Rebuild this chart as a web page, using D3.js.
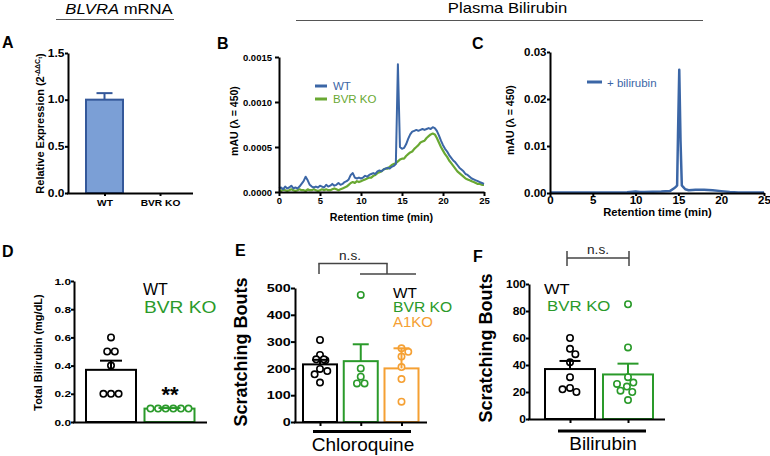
<!DOCTYPE html>
<html><head><meta charset="utf-8">
<script src="https://cdn.jsdelivr.net/npm/d3@7"></script>
<style>body{margin:0;background:#fff}</style>
</head><body>
<script>
// ================= DATA =================
// A: BLVRA mRNA
const mrnaGroups = ["WT", "BVR KO"];
const mrnaMean = [1.0, 0.0];
const mrnaSem = [0.07, 0.0];

// B: HPLC plasma traces (retention time, min / mAU)
const timeB = [0,0.25,0.5,0.75,1,1.25,1.5,1.75,2,2.25,2.5,2.75,3,3.25,3.5,3.75,4,4.25,4.5,4.75,5,5.25,5.5,5.75,6,6.25,6.5,6.75,7,7.25,7.5,7.75,8,8.25,8.5,8.75,9,9.25,9.5,9.75,10,10.25,10.5,10.75,11,11.25,11.5,11.75,12,12.25,12.5,12.75,13,13.25,13.5,13.75,14,14.25,14.5,14.75,15,15.25,15.5,15.75,16,16.25,16.5,16.75,17,17.25,17.5,17.75,18,18.25,18.5,18.75,19,19.25,19.5,19.75,20,20.25,20.5,20.75,21,21.25,21.5,21.75,22,22.25,22.5,22.75,23,23.25,23.5,23.75,24,24.25,24.5,24.75,25];
const signalWT = [0.4e-4,0.5e-4,0.3e-4,0.6e-4,0.4e-4,0.5e-4,0.7e-4,0.4e-4,0.5e-4,0.4e-4,0.6e-4,0.9e-4,1.2e-4,1.7e-4,1.3e-4,0.8e-4,0.6e-4,0.5e-4,0.6e-4,0.5e-4,0.7e-4,0.6e-4,0.5e-4,0.8e-4,0.6e-4,0.7e-4,0.9e-4,0.7e-4,0.8e-4,1.0e-4,0.8e-4,0.9e-4,1.1e-4,1.2e-4,1.4e-4,1.9e-4,2.1e-4,1.6e-4,1.5e-4,1.6e-4,1.5e-4,1.6e-4,1.8e-4,1.7e-4,1.9e-4,2.0e-4,2.1e-4,2.0e-4,2.3e-4,2.4e-4,2.3e-4,2.5e-4,2.6e-4,2.7e-4,2.6e-4,2.8e-4,2.9e-4,3.1e-4,14.2e-4,5.0e-4,4.8e-4,4.9e-4,5.3e-4,5.9e-4,6.4e-4,6.7e-4,6.8e-4,6.9e-4,6.8e-4,6.9e-4,7.0e-4,6.9e-4,7.0e-4,7.1e-4,7.0e-4,7.2e-4,7.1e-4,6.8e-4,6.3e-4,5.7e-4,5.2e-4,4.8e-4,4.5e-4,4.1e-4,3.8e-4,3.5e-4,3.3e-4,3.0e-4,2.7e-4,2.5e-4,2.3e-4,2.0e-4,1.9e-4,1.7e-4,1.5e-4,1.4e-4,1.3e-4,1.2e-4,1.1e-4,1.0e-4,0.9e-4];
const signalKO = [0.2e-4,0.1e-4,0.3e-4,0.2e-4,0.1e-4,0.2e-4,0.3e-4,0.2e-4,0.1e-4,0.2e-4,0.3e-4,0.2e-4,0.2e-4,0.1e-4,0.3e-4,0.2e-4,0.2e-4,0.3e-4,0.2e-4,0.1e-4,0.2e-4,0.3e-4,0.2e-4,0.3e-4,0.2e-4,0.2e-4,0.3e-4,0.4e-4,0.3e-4,0.2e-4,0.3e-4,0.4e-4,0.5e-4,0.6e-4,0.8e-4,1.0e-4,1.1e-4,1.0e-4,1.2e-4,1.1e-4,1.2e-4,1.3e-4,1.4e-4,1.5e-4,1.6e-4,1.6e-4,1.8e-4,1.9e-4,2.1e-4,2.2e-4,2.3e-4,2.5e-4,2.6e-4,2.6e-4,2.8e-4,3.0e-4,3.1e-4,3.2e-4,3.4e-4,3.6e-4,3.7e-4,3.7e-4,4.0e-4,4.2e-4,4.4e-4,4.5e-4,4.8e-4,5.0e-4,5.2e-4,5.5e-4,5.6e-4,5.7e-4,6.0e-4,6.2e-4,6.4e-4,6.5e-4,6.4e-4,6.0e-4,5.5e-4,5.0e-4,4.6e-4,4.2e-4,3.9e-4,3.5e-4,3.2e-4,2.9e-4,2.6e-4,2.3e-4,2.1e-4,1.9e-4,1.7e-4,1.5e-4,1.4e-4,1.3e-4,1.2e-4,1.1e-4,1.0e-4,0.9e-4,0.9e-4,0.8e-4,0.8e-4];

// C: + bilirubin trace
const timeC = [0,1,2,3,4,5,6,7,8,9,10,10.5,11,12,13,14,14.5,14.7,14.85,14.95,15.1,15.25,15.4,15.55,15.8,16.2,17,18,19,20,21,22,23,24,25];
const signalC = [0.0001,0.0001,0.00008,0.0001,0.0001,0.00012,0.0001,0.0001,0.00012,0.00015,0.0003,0.0002,0.0002,0.00025,0.0003,0.0004,0.0010,0.0013,0.0016,0.012,0.0262,0.011,0.0016,0.0013,0.0008,0.0006,0.0007,0.0007,0.0006,0.0004,0.0002,0.0001,0.0001,0.0001,0.0001];

// D: total bilirubin
const totalGroups = ["WT", "BVR KO"];
const totalMean = [0.37, 0.095];
const totalSem = [0.065, 0.004];
const totalWT = [0.6, 0.5, 0.5, 0.4, 0.2, 0.2, 0.2];
const totalKO = [0.095, 0.095, 0.095, 0.095, 0.095, 0.095];

// E: chloroquine scratching
const cqGroups = ["WT", "BVR KO", "A1KO"];
const cqMean = [215, 227, 200];
const cqSem = [17, 63, 75];
const cqWT = [306, 250, 234, 230, 234, 198, 190, 178, 147];
const cqKO = [474, 200, 169, 144, 144];
const cqA1 = [275, 262, 244, 205, 160, 76];

// F: bilirubin scratching
const biliGroups = ["WT", "BVR KO"];
const biliMean = [37, 33];
const biliSem = [6, 8];
const biliWT = [60, 52, 48, 42, 31, 23, 20, 22];
const biliKO = [85, 53, 31, 27, 24, 20, 21, 26, 14];

// ================= DRAWING =================
const FONT = "'Liberation Sans', Arial, Helvetica, sans-serif";
const BLUE = "#3b66a6", GREENB = "#69a832";
const GREEN = "#2a9a2a", ORANGE = "#f5a033";

const svg = d3.select("body").append("svg").attr("width", 770).attr("height", 456)
  .style("background", "#fff");

function txt(x, y, str, o = {}) {
  const t = svg.append("text")
    .attr("transform", o.rotate ? `translate(${x},${y}) rotate(${o.rotate})` : `translate(${x},${y}) scale(${o.sx || 1},1)`)
    .attr("font-family", FONT).attr("font-size", o.size || 10)
    .attr("font-weight", o.weight || "normal")
    .attr("text-anchor", o.anchor || "start").attr("fill", o.fill || "#000");
  if (o.style) t.attr("font-style", o.style);
  if (str != null) t.text(str);
  return t;
}
function line(x1, y1, x2, y2, o = {}) {
  svg.append("line").attr("x1", x1).attr("y1", y1).attr("x2", x2).attr("y2", y2)
    .attr("stroke", o.stroke || "#000").attr("stroke-width", o.w || 2)
    .attr("stroke-linecap", o.cap || "butt");
}
function styleAxis(g, o) {
  g.select(".domain").attr("stroke", "#000").attr("stroke-width", o.stroke || 2);
  g.selectAll(".tick line").attr("stroke", "#000").attr("stroke-width", o.stroke || 2);
  g.selectAll(".tick text").attr("font-family", FONT).attr("font-size", o.size)
    .attr("font-weight", o.weight || "bold").attr("fill", "#000");
}
function leftAxis(scale, x, ticks, fmt, o) {
  const g = svg.append("g").attr("transform", `translate(${x},0)`)
    .call(d3.axisLeft(scale).tickValues(ticks).tickFormat(fmt)
      .tickSize(o.tick).tickSizeOuter(0).tickPadding(o.pad));
  styleAxis(g, o);
  const sx = o.sx || 1;
  g.selectAll(".tick text").each(function () {
    const s = d3.select(this);
    s.attr("x", (+s.attr("x")) / sx).attr("transform", `scale(${sx},1)`);
  });
  return g;
}
function bottomAxis(scale, y, ticks, fmt, o) {
  const ax = d3.axisBottom(scale).tickFormat(fmt).tickSize(o.tick).tickSizeOuter(0).tickPadding(o.pad);
  if (ticks) ax.tickValues(ticks);
  const g = svg.append("g").attr("transform", `translate(0,${y})`).call(ax);
  styleAxis(g, o);
  if (o.noDomain) g.select(".domain").remove();
  const sx = o.sx || 1;
  g.selectAll(".tick text").attr("transform", `scale(${sx},1)`)
    .each(function () { const s = d3.select(this); s.attr("x", 0); });
  return g;
}
// simple beeswarm: identical values centered in a row, others nudged sideways
function swarm(values, yScale, cx, r) {
  const D = 2 * r + 1.2;
  const placed = [];
  const counts = d3.rollup(values, v => v.length, v => v);
  const seen = new Map();
  values.forEach(v => {
    const n = counts.get(v), y = yScale(v);
    if (n > 1) {
      const i = seen.get(v) || 0; seen.set(v, i + 1);
      placed.push({ v, x: cx + (i - (n - 1) / 2) * D, y });
      return;
    }
    const cands = [0];
    placed.forEach(p => {
      const dy = Math.abs(p.y - y);
      if (dy < D) { const dx = Math.sqrt(D * D - dy * dy); cands.push(p.x - cx + dx, p.x - cx - dx); }
    });
    cands.sort((a, b) => Math.abs(a) - Math.abs(b));
    let best = cands[0];
    for (const c of cands) {
      const ok = placed.every(p => Math.hypot(p.x - (cx + c), p.y - y) >= D - 0.01);
      if (ok) { best = c; break; }
    }
    placed.push({ v, x: cx + best, y });
  });
  return placed;
}
function barPanel(c) {
  const { x, y, groups, means, sems, points, colors, barW, capW, r, fills } = c;
  groups.forEach((gname, i) => {
    const cx = x(gname);
    svg.append("rect").attr("x", cx - barW / 2).attr("y", y(means[i]))
      .attr("width", barW).attr("height", y(0) - y(means[i]))
      .attr("fill", fills ? fills[i] : "#fff").attr("stroke", colors[i]).attr("stroke-width", 2);
  });
  if (points) groups.forEach((gname, i) => {
    swarm(points[i], y, x(gname), r).forEach(p => {
      svg.append("circle").attr("cx", p.x).attr("cy", p.y).attr("r", r)
        .attr("fill", "#fff").attr("stroke", colors[i]).attr("stroke-width", 1.6);
    });
  });
  groups.forEach((gname, i) => {
    if (!sems[i]) return;
    const cx = x(gname);
    const ec = c.errColors ? c.errColors[i] : colors[i];
    line(cx, y(means[i]), cx, y(means[i] + sems[i]), { stroke: ec, w: 2 });
    line(cx - capW / 2, y(means[i] + sems[i]), cx + capW / 2, y(means[i] + sems[i]), { stroke: ec, w: 2 });
  });
}

// ---------- headers ----------
const tA = txt(119, 14, null, { size: 14, anchor: "middle", sx: 1.19 });
tA.append("tspan").attr("font-style", "italic").text("BLVRA");
tA.append("tspan").text(" mRNA");
line(56, 19.5, 174, 19.5, { stroke: "#555", w: 1 });
txt(507.5, 13, "Plasma Bilirubin", { size: 14, anchor: "middle", sx: 1.19 });
line(296, 20.5, 703, 20.5, { stroke: "#555", w: 1 });

// panel letters
[["A", 2, 48], ["B", 217, 49], ["C", 472, 49], ["D", 2, 257], ["E", 235, 256], ["F", 473, 262]]
  .forEach(([s, x, y]) => txt(x, y, s, { size: 16, weight: "bold" }));

// ---------- Panel A ----------
{
  const y = d3.scaleLinear().domain([0, 1.5]).range([193, 53]);
  const x = d3.scalePoint().domain(mrnaGroups).range([104.5, 160]);
  barPanel({ x, y, groups: mrnaGroups, means: mrnaMean, sems: mrnaSem,
    colors: ["#34589a", "#34589a"], fills: ["#7b9fd6", "#7b9fd6"], barW: 37, capW: 16, r: 3 });
  leftAxis(y, 68, [0, 0.5, 1.0, 1.5], d3.format(".1f"), { tick: 3, pad: 0.5, size: 10, sx: 1.2 });
  bottomAxis(x, 193, null, d => d, { tick: 3, pad: 4, size: 8.5, sx: 1.2, noDomain: true });
  line(67, 193.5, 193, 193.5, { w: 2 });
  const yl = txt(44, 123.5, null, { rotate: -90, anchor: "middle", size: 11, weight: "bold" });
  yl.append("tspan").text("Relative Expression (2");
  yl.append("tspan").attr("font-size", 7).attr("dy", -4.5).text("-ΔΔC");
  yl.append("tspan").attr("font-size", 5.5).attr("dy", 2.5).text("t");
  yl.append("tspan").attr("font-size", 11).attr("dy", 2).text(")");
}

// ---------- Panel B ----------
{
  const x = d3.scaleLinear().domain([0, 25]).range([279, 484]);
  const y = d3.scaleLinear().domain([0, 0.0015]).range([192, 57]);
  const ln = d3.line().x(d => x(d[0])).y(d => y(d[1]));
  svg.append("path").datum(timeB.map((t, i) => [t, signalKO[i]])).attr("d", ln)
    .attr("fill", "none").attr("stroke", GREENB).attr("stroke-width", 2.2).attr("stroke-linejoin", "round");
  svg.append("path").datum(timeB.map((t, i) => [t, signalWT[i]])).attr("d", ln)
    .attr("fill", "none").attr("stroke", BLUE).attr("stroke-width", 2).attr("stroke-linejoin", "round");
  leftAxis(y, 279, [0, 0.0005, 0.001, 0.0015], d3.format(".4f"), { tick: 4, pad: 3, size: 9.5 });
  bottomAxis(x, 192, [0, 5, 10, 15, 20, 25], d3.format("d"), { tick: 4, pad: 1.5, size: 9.5 });
  txt(381.5, 221, "Retention time (min)", { size: 10.7, weight: "bold", anchor: "middle" });
  txt(238, 121, "mAU (λ = 450)", { rotate: -90, anchor: "middle", size: 10.5, weight: "bold" });
  line(315, 86, 327, 86, { stroke: BLUE, w: 3 });
  txt(333, 89.5, "WT", { size: 11.5, fill: BLUE });
  line(315, 99, 327, 99, { stroke: GREENB, w: 3 });
  txt(333, 102.7, "BVR KO", { size: 11.5, fill: GREENB });
}

// ---------- Panel C ----------
{
  const x = d3.scaleLinear().domain([0, 25]).range([550, 764]);
  const y = d3.scaleLinear().domain([0, 0.03]).range([193, 52]);
  const ln = d3.line().x(d => x(d[0])).y(d => y(d[1]));
  svg.append("path").datum(timeC.map((t, i) => [t, signalC[i]])).attr("d", ln)
    .attr("fill", "none").attr("stroke", BLUE).attr("stroke-width", 2.5).attr("stroke-linejoin", "round");
  leftAxis(y, 550, [0, 0.01, 0.02, 0.03], d3.format(".2f"), { tick: 3, pad: 0.5, size: 10.5, sx: 1.1 });
  bottomAxis(x, 193, [0, 5, 10, 15, 20, 25], d3.format("d"), { tick: 3, pad: 0.5, size: 10.5, sx: 1.1 });
  txt(657.5, 215.5, "Retention time (min)", { size: 10.5, weight: "bold", anchor: "middle", sx: 1.07 });
  txt(514, 120, "mAU (λ = 450)", { rotate: -90, anchor: "middle", size: 10.5, weight: "bold" });
  line(587, 82, 602, 82, { stroke: BLUE, w: 3 });
  txt(607, 86.5, "+ bilirubin", { size: 11.5, fill: BLUE });
}

// ---------- Panel D ----------
{
  const y = d3.scaleLinear().domain([0, 1]).range([422, 281]);
  const x = d3.scalePoint().domain(totalGroups).range([111, 169.5]);
  barPanel({ x, y, groups: totalGroups, means: totalMean, sems: totalSem,
    points: [totalWT, totalKO], colors: ["#000", GREEN], barW: 50, capW: 22, r: 3.2 });
  leftAxis(y, 74, [0, 0.2, 0.4, 0.6, 0.8, 1.0], d3.format(".1f"), { tick: 3, pad: 0, size: 9.5, sx: 1.25 });
  line(73, 422.5, 207, 422.5, { w: 2 });
  txt(42, 352.5, "Total Bilirubin (mg/dL)", { rotate: -90, anchor: "middle", size: 11, weight: "bold" });
  txt(143, 295, "WT", { size: 16, sx: 1.0 });
  txt(144, 313, "BVR KO", { size: 16, sx: 1.2, fill: GREEN });
  txt(170, 402, "**", { size: 22, weight: "bold", anchor: "middle" });
}

// ---------- Panel E ----------
{
  const y = d3.scaleLinear().domain([0, 500]).range([422, 288]);
  const x = d3.scalePoint().domain(cqGroups).range([320, 401.5]);
  barPanel({ x, y, groups: cqGroups, means: cqMean, sems: cqSem,
    points: [cqWT, cqKO, cqA1], colors: ["#000", GREEN, ORANGE], barW: 34, capW: 16, r: 3.2 });
  leftAxis(y, 295, [0, 100, 200, 300, 400, 500], d3.format("d"), { tick: 4, pad: 0.3, size: 11.6, sx: 1.24 });
  bottomAxis(x, 422, null, () => "", { tick: 4, pad: 0, size: 10, noDomain: true });
  line(294, 422.5, 427, 422.5, { w: 2 });
  txt(247, 352, "Scratching Bouts", { rotate: -90, anchor: "middle", size: 18, weight: "bold" });
  txt(393, 298, "WT", { size: 14, sx: 1.1 });
  txt(393, 312, "BVR KO", { size: 14, sx: 1.12, fill: GREEN });
  txt(393, 326.7, "A1KO", { size: 14, sx: 1.07, fill: ORANGE });
  line(313, 431.5, 411, 431.5, { w: 3 });
  txt(363, 451, "Chloroquine", { size: 19, anchor: "middle" });
  // bracket
  const bc = "#444";
  line(319, 274, 319, 263.5, { stroke: bc, w: 1.5 });
  line(318.3, 263.5, 387.7, 263.5, { stroke: bc, w: 1.5 });
  line(387, 263.5, 387, 274, { stroke: bc, w: 1.5 });
  line(360, 274, 416, 274, { stroke: bc, w: 1.5 });
  txt(350, 259.5, "n.s.", { size: 13, anchor: "middle", sx: 1.05, fill: "#222" });
}

// ---------- Panel F ----------
{
  const y = d3.scaleLinear().domain([0, 100]).range([419, 284]);
  const x = d3.scalePoint().domain(biliGroups).range([570, 628]);
  barPanel({ x, y, groups: biliGroups, means: biliMean, sems: biliSem,
    points: [biliWT, biliKO], colors: ["#000", GREEN], barW: 50, capW: 21, r: 3.2 });
  leftAxis(y, 529, [0, 20, 40, 60, 80, 100], d3.format("d"), { tick: 3, pad: 0, size: 10.7, sx: 1.12 });
  bottomAxis(x, 419, null, () => "", { tick: 4, pad: 0, size: 10, noDomain: true });
  line(528, 419.5, 665, 419.5, { w: 2 });
  txt(492, 348, "Scratching Bouts", { rotate: -90, anchor: "middle", size: 18, weight: "bold" });
  txt(544, 294, "WT", { size: 15, sx: 1.1 });
  txt(547, 311, "BVR KO", { size: 15, sx: 1.12, fill: GREEN });
  line(558, 431, 646, 431, { w: 3 });
  txt(603, 450, "Bilirubin", { size: 19, anchor: "middle" });
  const bc = "#444";
  line(567, 258, 629, 258, { stroke: bc, w: 1.5 });
  line(567, 251, 567, 266, { stroke: bc, w: 1.5 });
  line(629, 251, 629, 266, { stroke: bc, w: 1.5 });
  txt(598, 254, "n.s.", { size: 13, anchor: "middle", sx: 1.05, fill: "#222" });
}
</script>
</body></html>
